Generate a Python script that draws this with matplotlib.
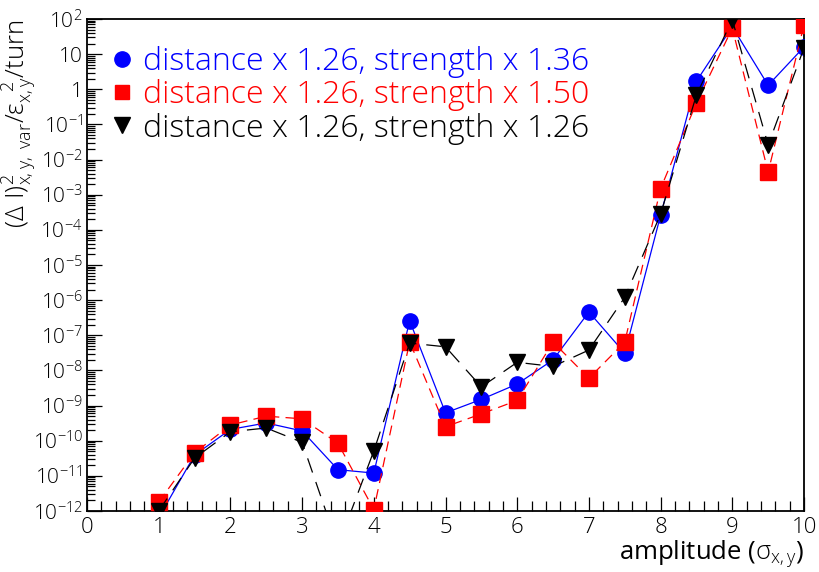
import numpy as np
import matplotlib
matplotlib.use("Agg")
import matplotlib.pyplot as plt
from matplotlib.lines import Line2D
from matplotlib.ticker import FixedLocator, MultipleLocator, NullFormatter

FONT = "Open Sans"
plt.rcParams['font.family'] = [FONT, 'DejaVu Sans']
plt.rcParams['font.weight'] = 'light'
plt.rcParams['mathtext.fontset'] = 'custom'
plt.rcParams['mathtext.rm'] = FONT + ':light'
plt.rcParams['mathtext.it'] = FONT + ':light'
plt.rcParams['mathtext.default'] = 'rm'

amplitude = [1.0, 1.5, 2.0, 2.5, 3.0, 3.5, 4.0, 4.5, 5.0, 5.5, 6.0, 6.5, 7.0, 7.5, 8.0, 8.5, 9.0, 9.5, 10.0]

s136 = [6.5e-13, 3.9e-11, 2.1e-10, 3.2e-10, 1.9e-10, 1.5e-11, 1.2e-11, 2.6e-7, 6.2e-10, 1.5e-9,
        4.1e-9, 2.0e-8, 4.6e-7, 3.1e-8, 2.6e-4, 1.7, 60.0, 1.3, 16.0]
s150 = [1.8e-12, 4.5e-11, 2.8e-10, 5.0e-10, 4.2e-10, 8.5e-11, 1.1e-12, 6.5e-8, 2.5e-10, 5.8e-10,
        1.4e-9, 6.4e-8, 6.0e-9, 6.4e-8, 1.5e-3, 0.41, 55.0, 4.4e-3, 68.0]
s126 = [1.0e-12, 3.2e-11, 1.8e-10, 2.3e-10, 9.0e-11, 1.0e-13, 5.1e-11, 6.0e-8, 4.7e-8, 3.4e-9,
        1.7e-8, 1.3e-8, 3.8e-8, 1.2e-6, 2.8e-4, 0.69, 95.0, 0.026, 15.0]

labels = ["distance x 1.26, strength x 1.36",
          "distance x 1.26, strength x 1.50",
          "distance x 1.26, strength x 1.26"]

fig = plt.figure(figsize=(8.19, 5.72), dpi=100)
ax = fig.add_axes([87/819, 1-511/572, (804-87)/819, (511-19)/572])

ax.plot(amplitude, s136, color='blue', lw=0.9, ls='-', marker='o', ms=11,
        mec='blue', mfc='blue', zorder=3)
ax.plot(amplitude, s150, color='red', lw=0.9, ls=(0, (8, 5)), marker='s', ms=11,
        mec='red', mfc='red', zorder=4)
ax.plot(amplitude, s126, color='black', lw=0.9, ls=(0, (12, 8)), marker='v', ms=12,
        mec='black', mfc='black', zorder=5)

ax.set_yscale('log')
ax.set_xlim(0, 10)
ax.set_ylim(1e-12, 1e2)

exps = list(range(-12, 3))
def lab(e):
    if e == 0:
        return '1'
    if e == 1:
        return '10'
    return r'$10^{%d}$' % e
ax.yaxis.set_major_locator(FixedLocator([10.0**e for e in exps]))
ax.set_yticklabels([lab(e) for e in exps])
minors = [m * 10.0**e for e in range(-12, 2) for m in range(2, 10)]
ax.yaxis.set_minor_locator(FixedLocator(minors))
ax.yaxis.set_minor_formatter(NullFormatter())

ax.xaxis.set_major_locator(MultipleLocator(1))
ax.xaxis.set_minor_locator(MultipleLocator(0.2))

ax.tick_params(axis='both', which='both', direction='in', top=False, right=False, width=0.9)
ax.tick_params(axis='x', which='major', length=10, labelsize=16, pad=4)
ax.tick_params(axis='x', which='minor', length=7)
ax.tick_params(axis='y', which='major', length=11, labelsize=15, pad=3)
ax.tick_params(axis='y', which='minor', length=6)
for sp in ax.spines.values():
    sp.set_linewidth(1.3)

ax.set_xlabel(r'amplitude ($\sigma_{x,y}$)', loc='right', fontsize=18.5, labelpad=0)
fig.text(19/819, 1-19/572, r'$(\Delta\ I)^{2}_{x,y,\ var}/\epsilon_{x,y}^{\ \ 2}/turn$',
         rotation=90, ha='center', va='top', fontsize=18.5)

handles = [Line2D([], [], ls='none', marker='o', ms=11, color='blue'),
           Line2D([], [], ls='none', marker='s', ms=10, color='red'),
           Line2D([], [], ls='none', marker='v', ms=11, color='black')]
leg = ax.legend(handles, labels, loc='upper left', bbox_to_anchor=((106-87)/717, 1-(46-19)/492),
                frameon=False, borderpad=0, borderaxespad=0,
                fontsize=23, handlelength=1.0, handletextpad=0.16, labelspacing=0.04,
                labelcolor=['blue', 'red', 'black'])

fig.savefig('out.png', dpi=100)
